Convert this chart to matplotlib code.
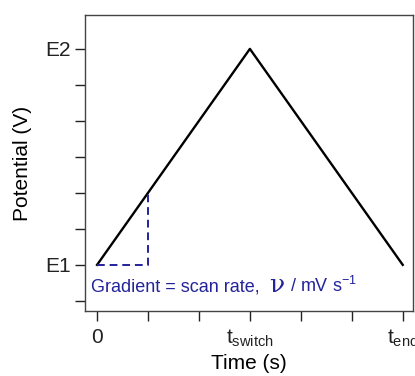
import matplotlib
matplotlib.use("Agg")
import matplotlib.pyplot as plt
from matplotlib.offsetbox import TextArea, HPacker, AnchoredOffsetbox

plt.rcParams['font.family'] = ['Liberation Sans', 'DejaVu Sans']
plt.rcParams['mathtext.fontset'] = 'custom'
plt.rcParams['mathtext.rm'] = 'Liberation Sans'
plt.rcParams['mathtext.it'] = 'Liberation Sans'

# waveform vertices (time units, potential units)
time_pts = [0, 3, 6]
potential_pts = [1, 7, 1]

# gradient triangle
tri_t = [0, 1, 1]
tri_e = [1, 1, 3]

x_ticks = [0, 1, 2, 3, 4, 5, 6]
x_labels = ['0', '', '', r'$\mathregular{t_{switch}}$', '', '', r'$\mathregular{t_{end}}$']
y_ticks = [0, 1, 2, 3, 4, 5, 6, 7]
y_labels = ['', 'E1', '', '', '', '', '', 'E2']

blue = '#23239a'

fig = plt.figure(figsize=(4.15, 3.76), dpi=100)
ax = fig.add_axes([0.205, 0.173, 0.790, 0.787])

ax.plot(time_pts, potential_pts, color='black', lw=1.7)
ax.plot(tri_t, tri_e, color=blue, lw=1.4, linestyle=(0, (4, 2.5)))

# annotation with a larger nu glyph
parts = [
    TextArea('Gradient = scan rate,  ', textprops=dict(color=blue, fontsize=13)),
    TextArea('\u03bd', textprops=dict(color=blue, fontsize=18, family='DejaVu Serif')),
    TextArea(' / mV s$^{-1}$', textprops=dict(color=blue, fontsize=13)),
]
box = HPacker(children=parts, align='baseline', pad=0, sep=0)
anchored = AnchoredOffsetbox(loc='lower left', child=box, pad=0, frameon=False,
                             bbox_to_anchor=(-0.12, 0.12), bbox_transform=ax.transData,
                             borderpad=0)
ax.add_artist(anchored)

ax.set_xlim(-0.235, 6.2)
ax.set_ylim(-0.28, 7.94)
ax.set_xticks(x_ticks)
ax.set_xticklabels(x_labels)
ax.set_yticks(y_ticks)
ax.set_yticklabels(y_labels)
ax.tick_params(direction='out', length=7, width=1, labelsize=15, colors='#222222')
ax.tick_params(axis='x', pad=5)
for s in ax.spines.values():
    s.set_color('#444444')
    s.set_linewidth(1)

ax.set_xlabel('Time (s)', fontsize=15, labelpad=4)
ax.set_ylabel('Potential (V)', fontsize=15, labelpad=9)

fig.savefig('out.png', dpi=100)
